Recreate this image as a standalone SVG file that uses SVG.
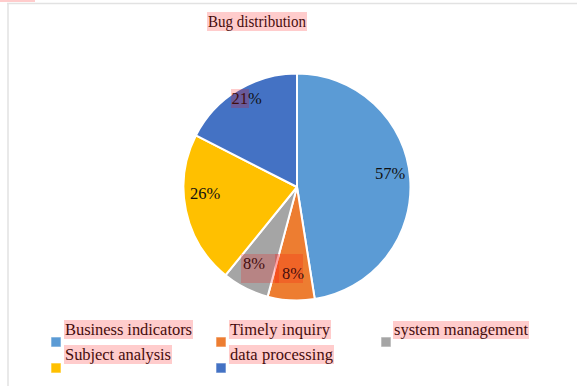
<svg xmlns="http://www.w3.org/2000/svg" width="577" height="386" viewBox="0 0 577 386">
  <style>
    .txt { font-family: "Liberation Serif", "Times New Roman", serif; font-size: 16.5px; fill: #111; }
    .hl { fill: #ff0000; fill-opacity: 0.2; }
    .slice { stroke: #ffffff; stroke-width: 2; stroke-linejoin: round; }
    .key { stroke: #ffffff; stroke-opacity: 0.6; stroke-width: 1; }
  </style>

  <!-- page background and frame -->
  <rect x="0" y="0" width="577" height="386" fill="#ffffff"/>
  <rect class="hl" x="0" y="0" width="35" height="2"/>
  <line x1="7" y1="3.5" x2="577" y2="3.5" stroke="#e2e2e2" stroke-width="1.5"/>
  <line x1="8" y1="3" x2="8" y2="386" stroke="#e2e2e2" stroke-width="1.5"/>

  <!-- title -->
  <g id="title">
    <text class="txt" x="208" y="27" textLength="98" lengthAdjust="spacingAndGlyphs">Bug distribution</text>
    <rect class="hl" x="207" y="12" width="100" height="19"/>
  </g>

  <!-- pie slices, clockwise from 12 o'clock; centre (297,187), r 113.5 -->
  <g id="pie">
    <path id="slice-business" class="slice" fill="#5B9BD5" d="M297,187 L297,73.5 A113.5,113.5 0 0 1 314.75,299.1 Z"/>
    <path id="slice-timely" class="slice" fill="#ED7D31" d="M297,187 L314.75,299.1 A113.5,113.5 0 0 1 267.62,296.63 Z"/>
    <path id="slice-system" class="slice" fill="#A5A5A5" d="M297,187 L267.62,296.63 A113.5,113.5 0 0 1 225.57,275.2 Z"/>
    <path id="slice-subject" class="slice" fill="#FFC000" d="M297,187 L225.57,275.2 A113.5,113.5 0 0 1 195.87,135.47 Z"/>
    <path id="slice-data" class="slice" fill="#4472C4" d="M297,187 L195.87,135.47 A113.5,113.5 0 0 1 297,73.5 Z"/>
  </g>

  <!-- data labels -->
  <g id="labels">
    <text class="txt" x="375" y="179">57%</text>
    <text class="txt" x="231.5" y="104">21%</text>
    <rect class="hl" x="231" y="89" width="18" height="19"/>
    <text class="txt" x="190" y="199">26%</text>
    <text class="txt" x="243" y="269">8%</text>
    <text class="txt" x="282" y="279">8%</text>
    <rect class="hl" x="241" y="254" width="38" height="29"/>
    <rect class="hl" x="275" y="254" width="28" height="29"/>
  </g>

  <!-- legend -->
  <g id="legend">
    <g id="legend-business">
      <rect class="key" x="51" y="337" width="10" height="10" fill="#5B9BD5"/>
      <text class="txt" x="65" y="335" textLength="127" lengthAdjust="spacing">Business indicators</text>
      <rect class="hl" x="64" y="320" width="129" height="19"/>
    </g>
    <g id="legend-timely">
      <rect class="key" x="216" y="337" width="10" height="10" fill="#ED7D31"/>
      <text class="txt" x="230" y="335" textLength="100" lengthAdjust="spacing">Timely inquiry</text>
      <rect class="hl" x="229" y="320" width="102" height="19"/>
    </g>
    <g id="legend-system">
      <rect class="key" x="381" y="337" width="10" height="10" fill="#A5A5A5"/>
      <text class="txt" x="394" y="335" textLength="134" lengthAdjust="spacing">system management</text>
      <rect class="hl" x="393" y="321" width="136" height="18"/>
    </g>
    <g id="legend-subject">
      <rect class="key" x="51" y="363" width="10" height="10" fill="#FFC000"/>
      <text class="txt" x="65" y="360" textLength="106" lengthAdjust="spacing">Subject analysis</text>
      <rect class="hl" x="64" y="345" width="108" height="19"/>
    </g>
    <g id="legend-data">
      <rect class="key" x="216" y="363" width="10" height="10" fill="#4472C4"/>
      <text class="txt" x="230" y="360" textLength="103" lengthAdjust="spacing">data processing</text>
      <rect class="hl" x="229" y="345" width="105" height="19"/>
    </g>
  </g>
</svg>
